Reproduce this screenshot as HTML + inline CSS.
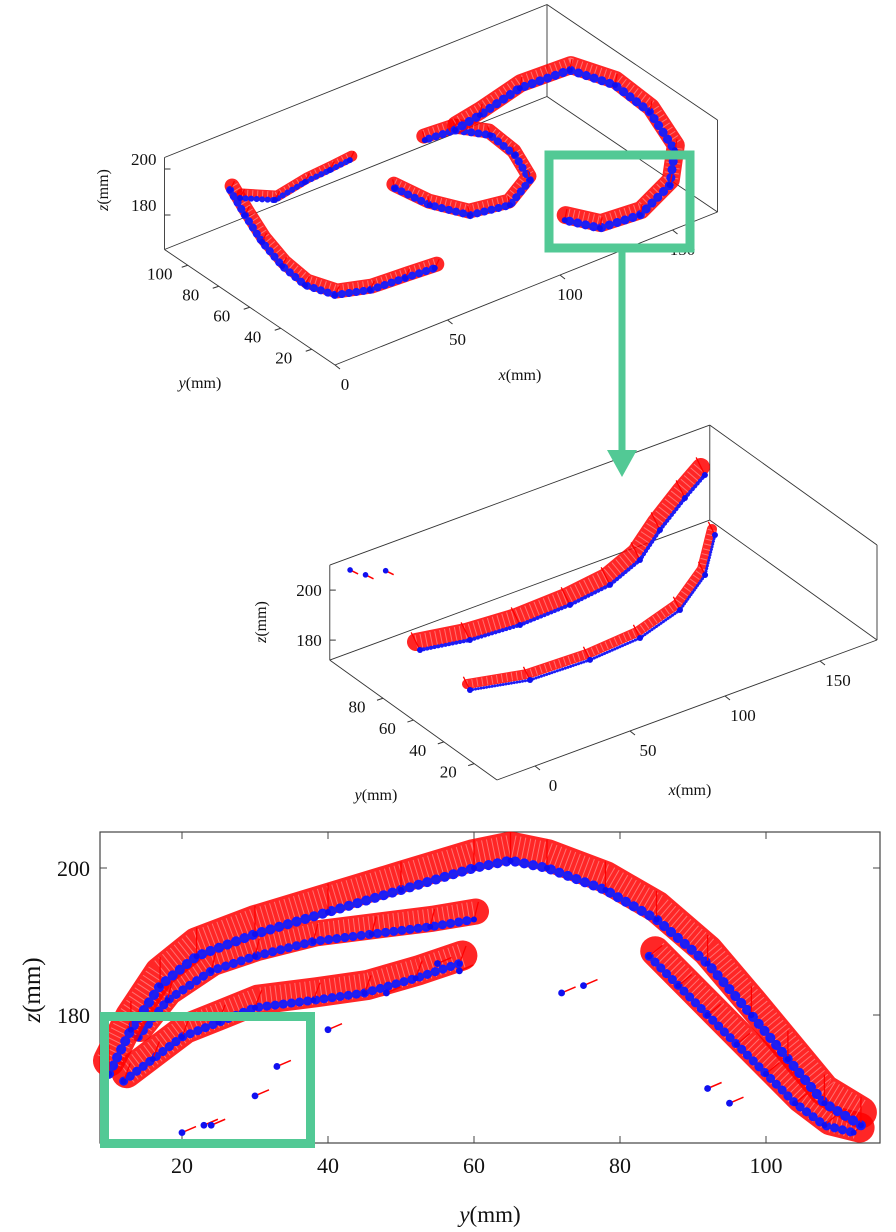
<!DOCTYPE html>
<html><head><meta charset="utf-8"><style>
html,body{margin:0;padding:0;background:#fff}
svg{display:block;font-family:"Liberation Serif",serif}
</style></head><body>
<svg id="fig" width="896" height="1232" viewBox="0 0 896 1232">
<g id="p1"></g>
<g id="p2"></g>
<g id="p3"></g>
<g id="ann">
<rect x="549" y="155" width="141" height="93" fill="none" stroke="#52c995" stroke-width="9"/>
<line x1="622" y1="250" x2="622" y2="452" stroke="#52c995" stroke-width="7"/>
<polygon points="607,450 637,450 622,477" fill="#52c995"/>
<rect x="104.5" y="1016.5" width="206" height="127" fill="none" stroke="#52c995" stroke-width="9"/>
</g>
</svg>
<script>
// ---------- Panel 1 data (mm) ----------
const p1AX=[23.9,17.7,11.4,7.1,5.6,9.9,21.7,36.5,48.9];
const p1AY=[107.4,88.8,68.6,49.4,32.5,19.4,14.0,12.8,11.6];
const p1BX=[23.4,32.3,48.1,60.0,69.7];
const p1BY=[100.2,90.6,94.2,95.4,96.6];
const p1CX=[70.7,73.5,80.6,95.9,111.8,117.9,119.2,111.5,98.9];
const p1CY=[69.0,50.5,34.9,31.3,41.5,60.1,78.0,89.4,90.6];
const p1DX=[111.5,124.6,146.9,168.3,174.7,173.3,164.6,148.8,128.1,111.5,105.0];
const p1DY=[89.4,92.4,99.0,97.8,78.0,53.5,24.7,5.0,-5.8,-4.0,9.2];
const p1Z=185;
const p1XTicks=[0,50,100,150];
const p1YTicks=[20,40,60,80,100];
const p1ZTicks=[180,200];
// ---------- Panel 2 data (mm) ----------
const p2RidgeX=[0.5,22.7,47.4,74.5,98.1,120.6,142.1,166.3,184.4];
const p2RidgeY=[81.3,76.2,74.1,75.1,78.3,86.7,100.4,114.2,123.7];
const p2LowX=[-1.5,24.2,54.8,82.8,110.3,136.0,158.8];
const p2LowY=[45.9,38.5,37.3,39.4,47.5,63.1,85.1];
const p2IsoX=[15.0,18.0,27.0];
const p2IsoY=[145.4,139.0,137.0];
const p2Z=185;
const p2XTicks=[0,50,100,150];
const p2YTicks=[20,40,60,80];
const p2ZTicks=[180,200];
// ---------- Panel 3 data (y,z mm) ----------
const outerY=[10,13,17,22,30,40,50,60,65,70,78,85,92,98,103,108,113];
const outerZ=[172,178,184,188,191,194,197,200,201,200,197,193,187,180,174,168,165];
const midY=[14,18,24,30,38,46,54,60];
const midZ=[177,182,186,188,190,191,192,193];
const innerLY=[12,16,20,25,30,38,45,52,58];
const innerLZ=[171,174,177,179,181,182,183,185,187];
const innerRY=[84,88,92,96,100,104,108,112];
const innerRZ=[188,184,180,176,172,168,165,164];
const scatY=[20,23,24,30,33,40,48,55,58,72,75,92,95];
const scatZ=[164,165,165,169,173,178,183,187,186,183,184,170,168];
const p3XTicks=[20,40,60,80,100];
const p3YTicks=[180,200];

const NS="http://www.w3.org/2000/svg";
function mk(parent,tag,attrs,name){const e=document.createElementNS(NS,tag);for(const k in attrs)e.setAttribute(k,attrs[k]);


parent.appendChild(e);return e;}
function txt(parent,x,y,s,size,name,anchor,html){const t=mk(parent,'text',{x:x,y:y,'font-size':size,'text-anchor':anchor||'middle',fill:'#111'},name);if(html)t.innerHTML=s;else t.textContent=s;return t;}

function makeProj(O,ex,ey,ez,x0,y0,z0){return (x,y,z)=>[O[0]+(x-x0)*ex[0]+(y-y0)*ey[0]+(z-z0)*ez[0],O[1]+(x-x0)*ex[1]+(y-y0)*ey[1]+(z-z0)*ez[1]];}

function drawBox(g,P,xr,yr,zr,name){
  const E=[[[xr[0],yr[1],zr[0]],[xr[1],yr[1],zr[0]]],[[xr[1],yr[1],zr[0]],[xr[1],yr[0],zr[0]]],
  [[xr[0],yr[0],zr[0]],[xr[1],yr[0],zr[0]]],[[xr[0],yr[0],zr[0]],[xr[0],yr[1],zr[0]]],
  [[xr[0],yr[1],zr[0]],[xr[0],yr[1],zr[1]]],[[xr[1],yr[1],zr[0]],[xr[1],yr[1],zr[1]]],[[xr[1],yr[0],zr[0]],[xr[1],yr[0],zr[1]]],
  [[xr[0],yr[1],zr[1]],[xr[1],yr[1],zr[1]]],[[xr[1],yr[1],zr[1]],[xr[1],yr[0],zr[1]]]];
  E.forEach(e=>{const a=P(...e[0]),b=P(...e[1]);mk(g,'line',{x1:a[0],y1:a[1],x2:b[0],y2:b[1],stroke:'#333','stroke-width':0.9},name+'-edge');});
}
function band(g,pts,redW,blueW,off,name){
  const d=pts.map((p,i)=>(i?'L':'M')+p[0].toFixed(1)+','+p[1].toFixed(1)).join(' ');
  const dr=pts.map((p,i)=>(i?'L':'M')+(p[0]+off[0]).toFixed(1)+','+(p[1]+off[1]).toFixed(1)).join(' ');
  mk(g,'path',{d:dr,fill:'none',stroke:'#f00','stroke-width':redW,'stroke-linejoin':'round','stroke-linecap':'round',opacity:0.85},name+'-vectors');
  mk(g,'path',{d:dr,fill:'none',stroke:'#fff','stroke-width':redW*0.8,'stroke-dasharray':'1 4',opacity:0.35},name+'-vector-gaps');
  mk(g,'path',{d:d,fill:'none',stroke:'#1a1aff','stroke-width':blueW,'stroke-linejoin':'round','stroke-linecap':'round','stroke-dasharray':'0.1 '+(blueW*0.9).toFixed(1)},name+'-points');
  mk(g,'path',{d:d,fill:'none',stroke:'#2020ee','stroke-width':blueW*0.4,'stroke-linejoin':'round'},name+'-centerline');
  pts.forEach(p=>{mk(g,'line',{x1:p[0],y1:p[1],x2:p[0]+off[0]*2.2,y2:p[1]+off[1]*2.2,stroke:'#f00','stroke-width':1.3},name+'-arrow');
    mk(g,'circle',{cx:p[0],cy:p[1],r:3,fill:'#1010f0'},name+'-point');});
}

// ---------- Panel 1 ----------
(function(){
  const g=document.getElementById('p1');
  const P=makeProj([335,365],[2.25,-0.9],[-1.55,-1.05],[0,-2.3],0,5,165);
  drawBox(g,P,[0,170],[5,115],[165,205],'p1-box');
  p1XTicks.forEach(v=>{const a=P(v,5,165);mk(g,'line',{x1:a[0],y1:a[1],x2:a[0]+5,y2:a[1]+4,stroke:'#333'},'p1-x-tick');txt(g,a[0]+10,a[1]+25,String(v),17,'p1-x-tick-label');});
  p1YTicks.forEach(v=>{const a=P(0,v,165);mk(g,'line',{x1:a[0],y1:a[1],x2:a[0]-6,y2:a[1]+2,stroke:'#333'},'p1-y-tick');txt(g,a[0]-28,a[1]+14,String(v),17,'p1-y-tick-label');});
  p1ZTicks.forEach(v=>{const a=P(0,115,v);mk(g,'line',{x1:a[0],y1:a[1],x2:a[0]+6,y2:a[1],stroke:'#333'},'p1-z-tick');txt(g,a[0]-8,a[1]-4,String(v),17,'p1-z-tick-label','end');});
  txt(g,520,380,'<tspan font-style="italic">x</tspan>(mm)',16,'p1-x-axis-title','middle',true);
  txt(g,200,388,'<tspan font-style="italic">y</tspan>(mm)',16,'p1-y-axis-title','middle',true);
  const t=txt(g,0,0,'<tspan font-style="italic">z</tspan>(mm)',16,'p1-z-axis-title','middle',true);t.setAttribute('transform','translate(108,190) rotate(-90)');
  const mkPts=(X,Y)=>X.map((x,i)=>P(x,Y[i],p1Z));
  band(g,mkPts(p1AX,p1AY),15,8,[2,-4],'p1-tube-a');
  band(g,mkPts(p1BX,p1BY),11,6,[2,-4],'p1-tube-b');
  band(g,mkPts(p1CX,p1CY),15,8,[-1,-4],'p1-tube-c');
  band(g,mkPts(p1DX,p1DY),18,9,[1,-5],'p1-tube-d');
})();

// ---------- Panel 2 ----------
(function(){
  const g=document.getElementById('p2');
  const P=makeProj([497,780],[1.9,-0.7],[-1.52,-1.09],[0,-2.5],-20,5,172);
  drawBox(g,P,[-20,180],[5,115],[172,210],'p2-box');
  p2XTicks.forEach(v=>{const a=P(v,5,172);mk(g,'line',{x1:a[0],y1:a[1],x2:a[0]+5,y2:a[1]+4,stroke:'#333'},'p2-x-tick');txt(g,a[0]+18,a[1]+25,String(v),17,'p2-x-tick-label');});
  p2YTicks.forEach(v=>{const a=P(-20,v,172);mk(g,'line',{x1:a[0],y1:a[1],x2:a[0]-6,y2:a[1]+2,stroke:'#333'},'p2-y-tick');txt(g,a[0]-26,a[1]+14,String(v),17,'p2-y-tick-label');});
  p2ZTicks.forEach(v=>{const a=P(-20,115,v);mk(g,'line',{x1:a[0],y1:a[1],x2:a[0]+6,y2:a[1],stroke:'#333'},'p2-z-tick');txt(g,a[0]-8,a[1]+6,String(v),17,'p2-z-tick-label','end');});
  txt(g,690,795,'<tspan font-style="italic">x</tspan>(mm)',16,'p2-x-axis-title','middle',true);
  txt(g,376,800,'<tspan font-style="italic">y</tspan>(mm)',16,'p2-y-axis-title','middle',true);
  const t=txt(g,0,0,'<tspan font-style="italic">z</tspan>(mm)',16,'p2-z-axis-title','middle',true);t.setAttribute('transform','translate(266,622) rotate(-90)');
  const mkPts=(X,Y)=>X.map((x,i)=>P(x,Y[i],p2Z));
  band(g,mkPts(p2RidgeX,p2RidgeY),18,4,[-4,-8],'p2-ridge');
  band(g,mkPts(p2LowX,p2LowY),10,3,[-3,-6],'p2-lower');
  p2IsoX.forEach((x,i)=>{const a=P(x,p2IsoY[i],p2Z);mk(g,'line',{x1:a[0],y1:a[1],x2:a[0]+8,y2:a[1]+4,stroke:'#f00','stroke-width':1.5},'p2-isolated-arrow');mk(g,'circle',{cx:a[0],cy:a[1],r:2.8,fill:'#1010f0'},'p2-isolated-point');});
})();

// ---------- Panel 3 ----------
(function(){
  const g=document.getElementById('p3');
  const L=100,T=832,R=880,B=1143;
  const sx=y=>182+(y-20)*7.3, sy=z=>868+(200-z)*7.35;
  mk(g,'rect',{x:L,y:T,width:R-L,height:B-T,fill:'none',stroke:'#444','stroke-width':1.2},'p3-axes-box');
  p3XTicks.forEach(v=>{const x=sx(v);mk(g,'line',{x1:x,y1:B,x2:x,y2:B-7,stroke:'#444'},'p3-x-tick');mk(g,'line',{x1:x,y1:T,x2:x,y2:T+7,stroke:'#444'},'p3-x-tick-top');txt(g,x,B+30,String(v),22,'p3-x-tick-label');});
  p3YTicks.forEach(v=>{const y=sy(v);mk(g,'line',{x1:L,y1:y,x2:L+7,y2:y,stroke:'#444'},'p3-y-tick');mk(g,'line',{x1:R,y1:y,x2:R-7,y2:y,stroke:'#444'},'p3-y-tick-right');txt(g,L-10,y+8,String(v),22,'p3-y-tick-label','end');});
  txt(g,490,1222,'<tspan font-style="italic">y</tspan>(mm)',23,'p3-x-axis-title','middle',true);
  const t=txt(g,0,0,'<tspan font-style="italic">z</tspan>(mm)',25,'p3-y-axis-title','middle',true);t.setAttribute('transform','translate(40,990) rotate(-90)');
  const mkPts=(Y,Z)=>Y.map((y,i)=>[sx(y),sy(Z[i])]);
  band(g,mkPts(innerLY,innerLZ),30,9,[3,-8],'p3-inner-left');
  band(g,mkPts(midY,midZ),26,9,[2,-8],'p3-middle-left');
  band(g,mkPts(innerRY,innerRZ),30,9,[6,-5],'p3-inner-right');
  band(g,mkPts(outerY,outerZ),32,10,[0,-13],'p3-outer-arc');
  scatY.forEach((y,i)=>{const x=sx(y),yy=sy(scatZ[i]);mk(g,'line',{x1:x,y1:yy,x2:x+14,y2:yy-6,stroke:'#f00','stroke-width':1.5},'p3-scatter-arrow');mk(g,'circle',{cx:x,cy:yy,r:3.4,fill:'#1010f0'},'p3-scatter-point');});
})();
</script>
</body></html>
